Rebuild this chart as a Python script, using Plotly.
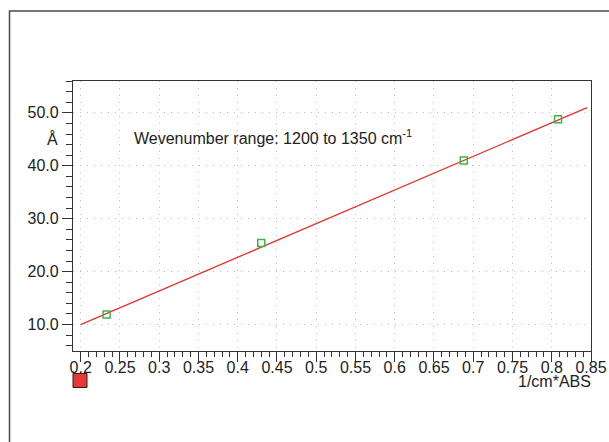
import plotly.graph_objects as go

# data
pts_x = [0.233, 0.430, 0.688, 0.808]
pts_y = [11.9, 25.4, 41.0, 48.8]
fit_x = [0.2, 0.845]
fit_y = [10.0, 51.0]

x_tick_vals = [0.2, 0.25, 0.3, 0.35, 0.4, 0.45, 0.5, 0.55, 0.6, 0.65, 0.7, 0.75, 0.8, 0.85]
x_tick_labels = ["0.2", "0.25", "0.3", "0.35", "0.4", "0.45", "0.5", "0.55", "0.6", "0.65", "0.7", "0.75", "0.8", "0.85"]
y_tick_vals = [10, 20, 30, 40, 50]
y_tick_labels = ["10.0", "20.0", "30.0", "40.0", "50.0"]

W, H = 609, 442
L, R, T, B = 73, 18, 81, 91
pw, ph = W - L - R, H - T - B

def px(x):
    return (x - L) / pw

def py(y):
    return (H - B - y) / ph

FONT = "Liberation Sans, Arial, sans-serif"
AX = "#333333"
GRID = dict(showgrid=True, gridcolor="#bdbdbd", griddash="1px,6px", gridwidth=1)

fig = go.Figure()
fig.add_trace(go.Scatter(x=fit_x, y=fit_y, mode="lines",
                         line=dict(color="#e8302c", width=1.3),
                         showlegend=False, hoverinfo="skip"))
fig.add_trace(go.Scatter(x=pts_x, y=pts_y, mode="markers",
                         marker=dict(symbol="square-open", size=7,
                                     color="#3db54a", line=dict(width=1.5, color="#3db54a")),
                         showlegend=False))

fig.update_layout(
    width=W, height=H,
    margin=dict(l=L, r=R, t=T, b=B, autoexpand=False),
    paper_bgcolor="white", plot_bgcolor="white",
    font=dict(family=FONT, size=16, color="#222222"),
    showlegend=False,
)

fig.update_xaxes(
    range=[0.1902, 0.85], automargin=False,
    tickmode="array", tickvals=x_tick_vals, ticktext=x_tick_labels,
    ticks="outside", ticklen=10, tickcolor=AX, tickwidth=1,
    ticklabelstandoff=-8,
    showline=True, linecolor=AX, linewidth=1.2, mirror=True,
    zeroline=False, **GRID,
    minor=dict(dtick=0.01, tick0=0.2, ticks="outside", ticklen=5,
               tickcolor=AX, showgrid=False),
    tickfont=dict(family=FONT, size=16, color="#222222"),
)
fig.update_yaxes(
    range=[5, 56.02], automargin=False,
    tickmode="array", tickvals=y_tick_vals, ticktext=y_tick_labels,
    ticks="outside", ticklen=10, tickcolor=AX, tickwidth=1,
    showline=True, linecolor=AX, linewidth=1.2, mirror=True,
    zeroline=False, **GRID,
    minor=dict(dtick=2, tick0=10, ticks="outside", ticklen=6,
               tickcolor=AX, showgrid=False),
    tickfont=dict(family=FONT, size=16, color="#222222"),
)

# outer frame (extends past right and bottom edges)
fig.add_shape(type="rect", xref="paper", yref="paper",
              x0=px(9.5), x1=px(700), y0=py(11), y1=py(600),
              line=dict(color="#4a4a4a", width=1.5), fillcolor="rgba(0,0,0,0)",
              layer="below")

# legend swatch
fig.add_shape(type="rect", xref="paper", yref="paper",
              x0=px(73), x1=px(87), y0=py(373.5), y1=py(387.5),
              line=dict(color="#3a1a1a", width=1), fillcolor="#e53a33")

fig.add_annotation(text="Wevenumber range: 1200 to 1350 cm<sup>-1</sup>",
                   xref="paper", yref="paper", x=px(132), y=py(137),
                   xanchor="left", yanchor="middle", showarrow=False,
                   font=dict(family=FONT, size=16, color="#222222"))
fig.add_annotation(text="Å", xref="paper", yref="paper", x=px(52.5), y=py(139),
                   xanchor="center", yanchor="middle", showarrow=False,
                   font=dict(family=FONT, size=16, color="#222222"))
fig.add_annotation(text="1/cm*ABS", xref="paper", yref="paper", x=px(593), y=py(382),
                   xanchor="right", yanchor="middle", showarrow=False,
                   font=dict(family=FONT, size=16, color="#222222"))

fig.write_html("out.html")
